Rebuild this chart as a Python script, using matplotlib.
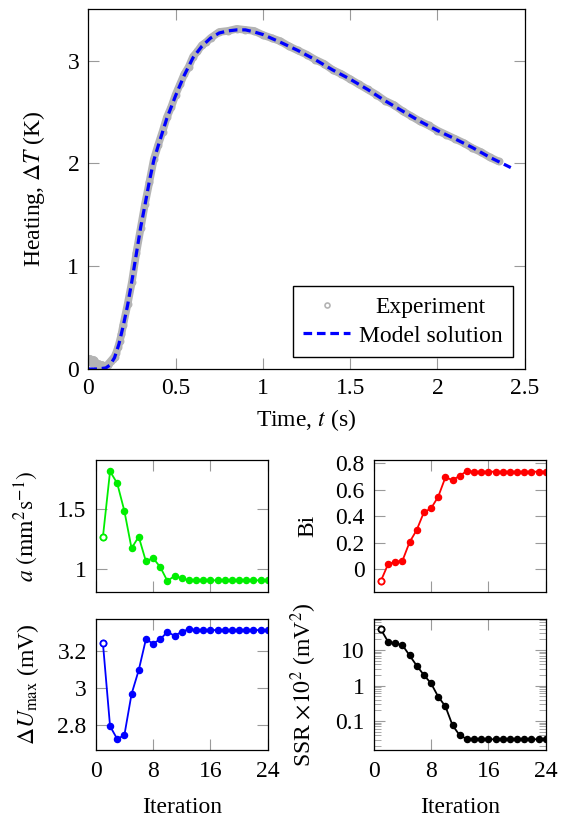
import matplotlib
matplotlib.use('Agg')
import matplotlib.pyplot as plt
from matplotlib.ticker import FixedLocator, LogLocator, NullFormatter

plt.rcParams['font.family'] = 'serif'
plt.rcParams['font.serif'] = ['Liberation Serif', 'DejaVu Serif']
plt.rcParams['mathtext.fontset'] = 'stix'
plt.rcParams['font.size'] = 17

# ---- heating curve: model solution ----
model_t = [0.0, 0.05, 0.10, 0.125, 0.15, 0.175, 0.20, 0.225, 0.25, 0.275, 0.30,
           0.325, 0.35, 0.375, 0.40, 0.45, 0.50, 0.55, 0.60, 0.65, 0.70, 0.75,
           0.80, 0.85, 0.90, 0.95, 1.00, 1.10, 1.20, 1.30, 1.40, 1.50, 1.60,
           1.70, 1.80, 1.90, 2.00, 2.10, 2.20, 2.30, 2.42]
model_dT = [0.0, 0.0, 0.01, 0.04, 0.11, 0.24, 0.42, 0.62, 0.86, 1.12, 1.38,
            1.60, 1.83, 2.03, 2.17, 2.44, 2.66, 2.86, 3.03, 3.14, 3.22, 3.27,
            3.29, 3.30, 3.30, 3.28, 3.255, 3.18, 3.10, 3.01, 2.91, 2.82, 2.72,
            2.61, 2.51, 2.41, 2.32, 2.24, 2.155, 2.06, 1.96]

# ---- heating curve: experiment ----
exp_t = [0.00, 0.01, 0.02, 0.03, 0.04, 0.05, 0.06, 0.07, 0.08, 0.09, 0.10,
         0.11, 0.12, 0.13, 0.14, 0.15, 0.16, 0.17, 0.18, 0.19,
         0.200, 0.225, 0.250, 0.275, 0.300, 0.325, 0.350, 0.375, 0.400, 0.425,
         0.450, 0.475, 0.500, 0.525, 0.550, 0.575, 0.600, 0.625, 0.650, 0.675,
         0.70, 0.75, 0.80, 0.85, 0.90, 0.95, 1.00, 1.05, 1.10, 1.15, 1.20,
         1.25, 1.30, 1.35, 1.40, 1.45, 1.50, 1.55, 1.60, 1.65, 1.70, 1.75,
         1.80, 1.85, 1.90, 1.95, 2.00, 2.05, 2.10, 2.15, 2.20, 2.25, 2.30, 2.35]
exp_dT = [0.08, 0.10, 0.06, 0.09, 0.07, 0.04, 0.05, 0.03, 0.04, 0.02, 0.03,
          0.04, 0.06, 0.08, 0.10, 0.12, 0.16, 0.21, 0.27, 0.34,
          0.43, 0.63, 0.85, 1.13, 1.37, 1.61, 1.82, 2.04, 2.18, 2.31,
          2.45, 2.55, 2.67, 2.77, 2.87, 2.94, 3.04, 3.09, 3.15, 3.18,
          3.22, 3.28, 3.29, 3.31, 3.30, 3.29, 3.25, 3.22, 3.19, 3.14, 3.10,
          3.06, 3.01, 2.97, 2.91, 2.87, 2.82, 2.77, 2.72, 2.67, 2.61, 2.57,
          2.51, 2.46, 2.41, 2.37, 2.32, 2.28, 2.24, 2.20, 2.15, 2.11, 2.06, 2.02]

# ---- inverse problem iterations ----
iteration = list(range(1, 25))
diffusivity = [1.267, 1.817, 1.717, 1.486, 1.175, 1.272, 1.067, 1.094, 1.019,
               0.903, 0.944, 0.925] + [0.908] * 12
biot = [-0.088, 0.038, 0.058, 0.063, 0.204, 0.297, 0.430, 0.460, 0.548,
        0.694, 0.674, 0.706, 0.742] + [0.737] * 11
dU_max = [3.243, 2.796, 2.727, 2.748, 2.968, 3.096, 3.261, 3.239, 3.261,
          3.302, 3.280, 3.302, 3.316] + [3.311] * 11
ssr = [38.2, 17.2, 15.4, 13.8, 7.08, 3.62, 1.98, 1.15, 0.484, 0.259,
       0.0755, 0.0394, 0.0311] + [0.0305] * 11

TICK_GRAY = '#9a9a9a'


def style_axes(ax, pad=6.5):
    ax.tick_params(which='major', direction='in', length=8, width=0.8,
                   color=TICK_GRAY, top=True, right=True, pad=pad)
    ax.tick_params(which='minor', direction='in', length=4, width=0.6,
                   color=TICK_GRAY, top=True, right=True)
    for s in ax.spines.values():
        s.set_linewidth(0.9)


def iter_panel(ax, values, color, ylim, yticks, ylabel, bottom_row):
    ax.plot(iteration, values, '-o', color=color, lw=1.3, ms=4.4)
    # first iterate drawn as an open circle
    ax.plot(iteration[:1], values[:1], 'o', color=color, ms=4.4,
            mfc='white', mew=1.3)
    ax.set_xlim(0, 24)
    ax.set_ylim(*ylim)
    ax.xaxis.set_major_locator(FixedLocator([0, 8, 16, 24]))
    if yticks is not None:
        ax.set_yticks(yticks)
        ax.set_yticklabels([('%g' % v) for v in yticks])
    style_axes(ax)
    ax.tick_params(axis='x', pad=8)
    if not bottom_row:
        ax.tick_params(labelbottom=False)
    else:
        ax.set_xlabel('Iteration', va='top')
        ax.xaxis.set_label_coords(0.5, -0.36)
    ax.set_ylabel(ylabel)
    ax.yaxis.set_label_coords(-0.32, 0.5)


fig = plt.figure(figsize=(5.64, 8.18), dpi=100)

# top: heating curve
ax = fig.add_axes([0.1566, 0.5489, 0.7738, 0.4397])
ax.plot(exp_t, exp_dT, '-', color='#b4b4b4', lw=5.5, solid_capstyle='round',
        label='_nolegend_')
ax.plot(exp_t, exp_dT, 'o', color='#b4b4b4', ms=4.5, mfc='none', mew=1.2,
        label='Experiment')
ax.plot(model_t, model_dT, color='#0000ff', lw=2.3, dashes=(2.7, 1.5),
        label='Model solution')
ax.set_xlim(0, 2.5)
ax.set_ylim(0, 3.5)
ax.set_xticks([0, 0.5, 1, 1.5, 2, 2.5])
ax.set_xticklabels(['0', '0.5', '1', '1.5', '2', '2.5'])
ax.set_yticks([0, 1, 2, 3])
style_axes(ax)
ax.set_xlabel('Time, $t$ (s)', va='top')
ax.xaxis.set_label_coords(0.5, -0.105)
ax.set_ylabel(r'Heating, $\Delta T$ (K)')
ax.yaxis.set_label_coords(-0.095, 0.5)
leg = ax.legend(loc='lower right', fancybox=False, edgecolor='black',
                framealpha=1, borderaxespad=0.5, handlelength=2.0,
                handletextpad=0.35, borderpad=0.45, labelspacing=0.3,
                markerscale=0.8)
leg.get_frame().set_linewidth(1.0)

# bottom: iteration panels
w, h1, h2 = 0.305, 0.1617, 0.1601
ax_a = fig.add_axes([0.1697, 0.2759, w, h1])
iter_panel(ax_a, diffusivity, '#00ee00', (0.808, 1.911), [1, 1.5],
           r'$a$ $\left(\mathrm{mm^2 s^{-1}}\right)$', False)

ax_bi = fig.add_axes([0.6626, 0.2759, w, h1])
iter_panel(ax_bi, biot, '#ff0000', (-0.174, 0.825), [0, 0.2, 0.4, 0.6, 0.8],
           'Bi', False)

ax_u = fig.add_axes([0.1697, 0.0831, w, h2])
iter_panel(ax_u, dU_max, '#0000ff', (2.668, 3.370), [2.8, 3.0, 3.2],
           r'$\Delta U_{\max}$ (mV)', True)

ax_s = fig.add_axes([0.6626, 0.0831, w, h2])
ax_s.set_yscale('log')
iter_panel(ax_s, ssr, 'black', (0.0152, 74.6), None,
           r'SSR $\times 10^2$ (mV$^2$)', True)
ax_s.yaxis.set_major_locator(FixedLocator([0.1, 1, 10]))
ax_s.set_yticklabels(['0.1', '1', '10'])
ax_s.yaxis.set_minor_locator(LogLocator(base=10, subs=range(2, 10), numticks=20))
ax_s.yaxis.set_minor_formatter(NullFormatter())
ax_s.tick_params(which='minor', length=5)

# centre the legend entries the way the original legend does
fig.canvas.draw()
renderer = fig.canvas.get_renderer()
widths = [t.get_window_extent(renderer).width for t in leg.get_texts()]
for t, wd in zip(leg.get_texts(), widths):
    t.set_x((max(widths) - wd) / 2)

fig.savefig('out.png', dpi=100)
